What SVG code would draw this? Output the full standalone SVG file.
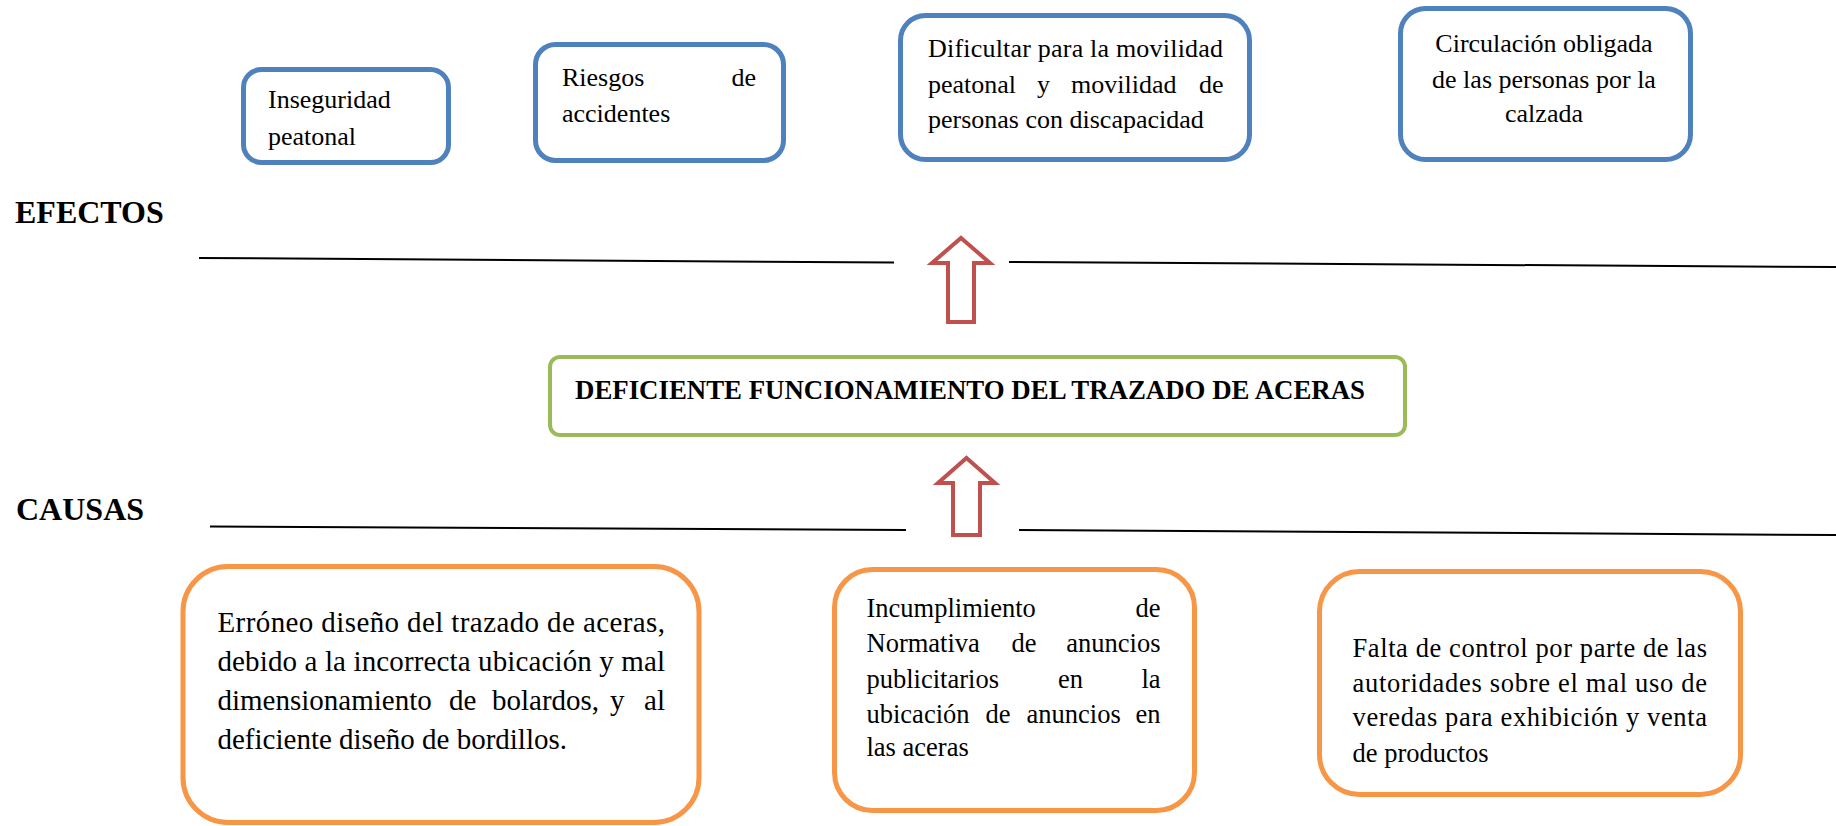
<svg xmlns="http://www.w3.org/2000/svg" width="1836" height="826" viewBox="0 0 1836 826" font-family="'Liberation Serif', 'DejaVu Serif', serif">
<style>
  .bg { fill: #ffffff; }
  .eff rect { fill: #ffffff; stroke: #4f81bd; stroke-width: 5; }
  .cau rect { fill: #ffffff; stroke: #f79646; stroke-width: 5; }
  .main rect { fill: #ffffff; stroke: #9bbb59; stroke-width: 4; }
  text { font-family: 'Liberation Serif', 'DejaVu Serif', serif; fill: #000000; }
  .t26 { font-size: 26px; }
  .t265 { font-size: 26.5px; }
  .t29 { font-size: 29px; }
  .hdr { font-size: 32px; font-weight: bold; }
  .ttl { font-size: 26.5px; font-weight: bold; }
  .sep { stroke: #000000; stroke-width: 2; fill: none; }
  .arrow { fill: #ffffff; stroke: #c0504d; stroke-width: 4; stroke-linejoin: miter; }
</style>
<rect class="bg" x="0" y="0" width="1836" height="826"/>

<text class="hdr" x="15" y="223">EFECTOS</text>
<text class="hdr" x="16" y="520">CAUSAS</text>

<g id="connectors">
  <line class="sep" x1="199" y1="258" x2="894" y2="262.5"/>
  <line class="sep" x1="1009" y1="262" x2="1836" y2="267"/>
  <line class="sep" x1="210" y1="526.5" x2="906" y2="530"/>
  <line class="sep" x1="1019" y1="530" x2="1836" y2="535"/>
  <polygon class="arrow" points="961,238 990,263 974,263 974,322 948,322 948,263 932,263"/>
  <polygon class="arrow" points="966.5,458 995,483 980,483 980,535 953,535 953,483 938,483"/>
</g>

<g id="effect-inseguridad" class="eff">
  <rect x="243.5" y="69.5" width="205" height="93" rx="18"/>
  <text class="t26" x="268" y="108">Inseguridad</text>
  <text class="t26" x="268" y="145">peatonal</text>
</g>

<g id="effect-riesgos" class="eff">
  <rect x="535.5" y="44.5" width="248" height="116" rx="20"/>
  <text class="t26" x="562" y="86">Riesgos</text>
  <text class="t26" x="756" y="86" text-anchor="end">de</text>
  <text class="t26" x="562" y="122">accidentes</text>
</g>

<g id="effect-dificultar" class="eff">
  <rect x="900.5" y="15.5" width="349" height="144" rx="25"/>
  <text class="t26" x="928" y="57" textLength="295" lengthAdjust="spacing">Dificultar para la movilidad</text>
  <text class="t26" x="928" y="93">peatonal</text>
  <text class="t26" x="1037" y="93">y</text>
  <text class="t26" x="1071" y="93">movilidad</text>
  <text class="t26" x="1223.5" y="93" text-anchor="end">de</text>
  <text class="t26" x="928" y="128">personas con discapacidad</text>
</g>

<g id="effect-circulacion" class="eff">
  <rect x="1400.5" y="8.5" width="290" height="151" rx="25"/>
  <text class="t26" x="1544" y="52" text-anchor="middle">Circulación obligada</text>
  <text class="t26" x="1544" y="88" text-anchor="middle">de las personas por la</text>
  <text class="t26" x="1544" y="122" text-anchor="middle">calzada</text>
</g>

<g id="problem" class="main">
  <rect x="550" y="357" width="855" height="78" rx="10"/>
  <text class="ttl" x="575" y="399" textLength="790" lengthAdjust="spacingAndGlyphs">DEFICIENTE FUNCIONAMIENTO DEL TRAZADO DE ACERAS</text>
</g>

<g id="cause-diseno" class="cau">
  <rect x="183" y="566.5" width="516" height="256" rx="45"/>
  <text class="t29" x="217.5" y="632" textLength="447.5" lengthAdjust="spacing">Erróneo diseño del trazado de aceras,</text>
  <text class="t29" x="217.5" y="671" textLength="447.5" lengthAdjust="spacing">debido a la incorrecta ubicación y mal</text>
  <text class="t29" x="217.5" y="710">dimensionamiento</text>
  <text class="t29" x="449" y="710">de</text>
  <text class="t29" x="492" y="710">bolardos,</text>
  <text class="t29" x="610" y="710">y</text>
  <text class="t29" x="665" y="710" text-anchor="end">al</text>
  <text class="t29" x="217.5" y="749">deficiente diseño de bordillos.</text>
</g>

<g id="cause-normativa" class="cau">
  <rect x="834.5" y="569.5" width="360" height="241" rx="38"/>
  <text class="t265" x="866.5" y="617">Incumplimiento</text>
  <text class="t265" x="1160.5" y="617" text-anchor="end">de</text>
  <text class="t265" x="866.5" y="652">Normativa</text>
  <text class="t265" x="1011.5" y="652">de</text>
  <text class="t265" x="1160.5" y="652" text-anchor="end">anuncios</text>
  <text class="t265" x="866.5" y="688">publicitarios</text>
  <text class="t265" x="1058" y="688">en</text>
  <text class="t265" x="1160.5" y="688" text-anchor="end">la</text>
  <text class="t265" x="866.5" y="723">ubicación</text>
  <text class="t265" x="985.5" y="723">de</text>
  <text class="t265" x="1026.5" y="723">anuncios</text>
  <text class="t265" x="1160.5" y="723" text-anchor="end">en</text>
  <text class="t265" x="866.5" y="756">las aceras</text>
</g>

<g id="cause-control" class="cau">
  <rect x="1319.5" y="571.5" width="421" height="223" rx="40"/>
  <text class="t265" x="1352.5" y="657" textLength="354.5" lengthAdjust="spacing">Falta de control por parte de las</text>
  <text class="t265" x="1352.5" y="692" textLength="354.5" lengthAdjust="spacing">autoridades sobre el mal uso de</text>
  <text class="t265" x="1352.5" y="726" textLength="354.5" lengthAdjust="spacing">veredas para exhibición y venta</text>
  <text class="t265" x="1352.5" y="762">de productos</text>
</g>
</svg>
